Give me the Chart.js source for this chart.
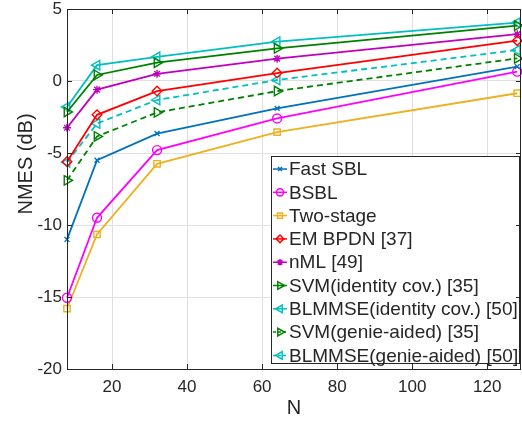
<!DOCTYPE html>
<html>
<head>
<meta charset="utf-8">
<script src="https://cdn.jsdelivr.net/npm/chart.js@4/dist/chart.umd.min.js"></script>
<style>
  html, body { margin: 0; padding: 0; background: #fff; }
  #wrap { width: 522px; height: 424px; }
</style>
</head>
<body>
<div id="wrap"><canvas id="nmseCanvas" width="522" height="424"></canvas></div>
<script>
// NMSE vs N

const nValues = [8, 16, 32, 64, 128];
const xTicks = [20, 40, 60, 80, 100, 120];
const yTicks = [-20, -15, -10, -5, 0, 5];

const fastSbl   = [-11.0, -5.5, -3.65, -1.9, 1.0];
const bsbl      = [-15.05, -9.5, -4.8, -2.6, 0.65];
const twoStage  = [-15.8, -10.65, -5.75, -3.55, -0.85];
const emBpdn    = [-5.6, -2.35, -0.7, 0.55, 2.8];
const nml       = [-3.25, -0.6, 0.5, 1.55, 3.25];
const svmId     = [-2.15, 0.42, 1.27, 2.27, 3.85];
const blmmseId  = [-1.8, 1.1, 1.68, 2.73, 4.05];
const svmGenie  = [-6.9, -3.85, -2.18, -0.7, 1.57];
const blmmseGenie = [-5.65, -2.95, -1.32, 0.07, 2.15];

const seriesLabels = [
    'Fast SBL', 'BSBL', 'Two-stage', 'EM BPDN [37]', 'nML [49]',
    'SVM(identity cov.) [35]', 'BLMMSE(identity cov.) [50]',
    'SVM(genie-aided) [35]', 'BLMMSE(genie-aided) [50]'
];

const TEXT = '#262626';
const FONT = 'Liberation Sans, Arial, Helvetica, sans-serif';

function makeSeries(label, data, color, style, radius, rotation, dash) {
    return {
        label: label,
        data: data,
        borderColor: color,
        backgroundColor: color,
        borderWidth: 1.8,
        borderDash: dash || [],
        tension: 0,
        clip: false,
        pointStyle: style,
        pointRadius: radius,
        pointHoverRadius: radius,
        pointRotation: rotation || 0,
        pointBorderColor: color,
        pointBackgroundColor: 'rgba(0,0,0,0)',
        pointBorderWidth: 1.4
    };
}

// legend drawn inside the plot, like the original
const insideLegend = {
    id: 'insideLegend',
    afterDatasetsDraw(chart) {
        const ctx = chart.ctx;
        const area = chart.chartArea;
        const boxW = 248, boxH = 207;
        const x0 = area.right - 2 - boxW;
        const y0 = area.bottom - 6 - boxH;
        ctx.save();
        ctx.fillStyle = '#fff';
        ctx.fillRect(x0, y0, boxW, boxH);
        ctx.strokeStyle = TEXT;
        ctx.lineWidth = 1;
        ctx.strokeRect(x0 + 0.5, y0 + 0.5, boxW, boxH);
        ctx.font = '19px ' + FONT;
        ctx.textBaseline = 'middle';
        chart.data.datasets.forEach((ds, i) => {
            const y = y0 + 13 + i * 23.3;
            ctx.strokeStyle = ds.borderColor;
            ctx.lineWidth = 1.5;
            ctx.setLineDash(ds.borderDash.length ? [3, 2] : []);
            ctx.beginPath();
            ctx.moveTo(x0 + 2, y);
            ctx.lineTo(x0 + 16, y);
            ctx.stroke();
            ctx.setLineDash([]);
            ctx.fillStyle = 'rgba(0,0,0,0)';
            Chart.helpers.drawPoint(ctx, {
                pointStyle: ds.pointStyle,
                rotation: ds.pointRotation,
                radius: ds.pointRadius * 0.8,
                borderWidth: 1.3
            }, x0 + 9, y);
            ctx.fillStyle = TEXT;
            ctx.fillText(ds.label, x0 + 18, y + 1);
        });
        ctx.restore();
    }
};

// box around the axes with inward ticks, plus the y label
const axesBox = {
    id: 'axesBox',
    afterDraw(chart) {
        const ctx = chart.ctx;
        const a = chart.chartArea;
        const xs = chart.scales.x, ys = chart.scales.y;
        ctx.save();
        ctx.strokeStyle = TEXT;
        ctx.lineWidth = 1;
        ctx.beginPath();
        ctx.rect(Math.round(a.left) + 0.5, Math.round(a.top) + 0.5,
                 Math.round(a.right - a.left) - 1, Math.round(a.bottom - a.top));
        xTicks.forEach(v => {
            const px = Math.round(xs.getPixelForValue(v)) + 0.5;
            ctx.moveTo(px, a.bottom); ctx.lineTo(px, a.bottom - 5);
            ctx.moveTo(px, a.top); ctx.lineTo(px, a.top + 5);
        });
        yTicks.forEach(v => {
            const py = Math.round(ys.getPixelForValue(v)) + 0.5;
            ctx.moveTo(a.left, py); ctx.lineTo(a.left + 5, py);
            ctx.moveTo(a.right, py); ctx.lineTo(a.right - 5, py);
        });
        ctx.stroke();

        ctx.translate(26, 164);
        ctx.rotate(-Math.PI / 2);
        ctx.fillStyle = TEXT;
        ctx.font = '20px ' + FONT;
        ctx.textAlign = 'center';
        ctx.textBaseline = 'middle';
        ctx.fillText('NMES (dB)', 0, 0);
        ctx.restore();
    }
};

window.addEventListener('DOMContentLoaded', () => {
    const ctx = document.getElementById('nmseCanvas').getContext('2d');
    const datasets = [
        makeSeries(seriesLabels[0], fastSbl, '#0072BD', 'crossRot', 3.5),
        makeSeries(seriesLabels[1], bsbl, '#FF00FF', 'circle', 4.5),
        makeSeries(seriesLabels[2], twoStage, '#EDB120', 'rect', 4.5),
        makeSeries(seriesLabels[3], emBpdn, '#FF0000', 'rectRot', 4.8),
        makeSeries(seriesLabels[4], nml, '#BF00BF', 'star', 4),
        makeSeries(seriesLabels[5], svmId, '#008000', 'triangle', 5.5, 90),
        makeSeries(seriesLabels[6], blmmseId, '#00BFBF', 'triangle', 5.5, -90),
        makeSeries(seriesLabels[7], svmGenie, '#008000', 'triangle', 5.5, 90, [6, 4]),
        makeSeries(seriesLabels[8], blmmseGenie, '#00BFBF', 'triangle', 5.5, -90, [6, 4])
    ];
    datasets.forEach(ds => {
        ds.data = ds.data.map((v, i) => ({ x: nValues[i], y: v }));
    });

    new Chart(ctx, {
        type: 'line',
        data: { datasets: datasets },
        options: {
            responsive: false,
            animation: false,
            layout: { autoPadding: false, padding: { top: 9, right: 1, left: 0, bottom: 0 } },
            plugins: {
                legend: { display: false },
                tooltip: { enabled: false }
            },
            scales: {
                x: {
                    type: 'linear',
                    min: 8,
                    max: 129,
                    afterBuildTicks: s => { s.ticks = xTicks.map(v => ({ value: v })); },
                    afterFit: s => { s.height = 55; s.paddingLeft = 0; s.paddingRight = 0; },
                    grid: { color: '#dfdfdf', drawTicks: false },
                    border: { display: false },
                    ticks: { color: TEXT, font: { family: FONT, size: 17 }, padding: 8, maxRotation: 0 },
                    title: { display: true, text: 'N', color: TEXT, font: { family: FONT, size: 20 }, padding: { top: 0, bottom: 4 } }
                },
                y: {
                    type: 'linear',
                    min: -20,
                    max: 5,
                    afterBuildTicks: s => { s.ticks = yTicks.map(v => ({ value: v })); },
                    afterFit: s => { s.width = 67; s.paddingTop = 0; s.paddingBottom = 0; },
                    grid: { color: '#dfdfdf', drawTicks: false },
                    border: { display: false },
                    ticks: { color: TEXT, font: { family: FONT, size: 17 }, padding: 5 }
                }
            }
        },
        plugins: [insideLegend, axesBox]
    });
});
</script>
</body>
</html>
